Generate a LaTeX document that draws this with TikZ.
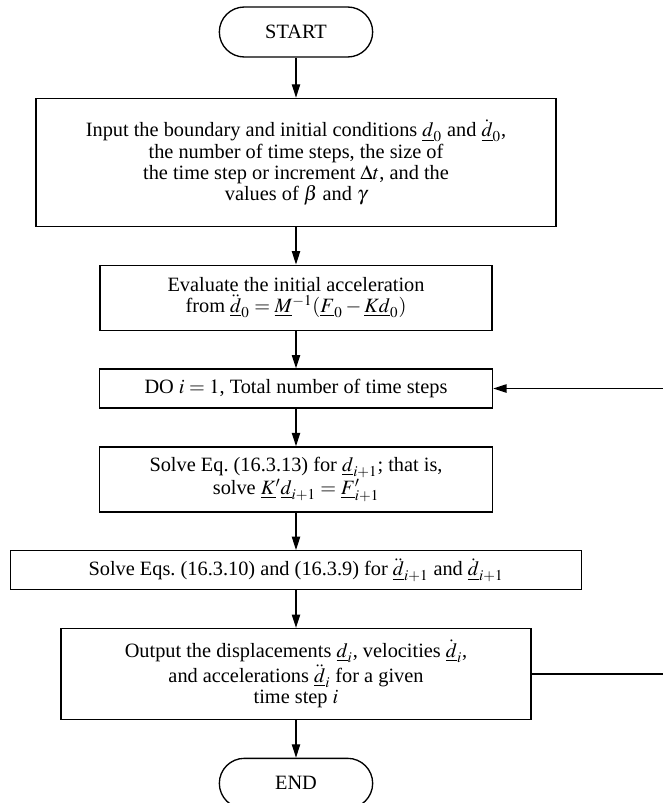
\documentclass[tikz,border=0pt]{standalone}
\usepackage{mathptmx}
\usepackage{fontspec}
\setmainfont{Liberation Serif}
\usetikzlibrary{positioning,arrows.meta}
\newcommand{\vect}[1]{\underline{#1}}

\begin{document}
\begin{tikzpicture}[
node distance=22.5pt,
box/.style={
draw,
line width=0.8pt,
inner sep=2pt,
align=center,
font=\fontsize{12.2}{12.8}\selectfont
},
terminal/.style={
box,
minimum width=92pt,
minimum height=30pt,
rounded corners=15pt
},
flow/.style={->, line width=0.7pt},
>={Triangle[length=8pt,width=5pt]}
]
\useasboundingbox (0,0) rectangle (397.8pt,-481.8pt);
\node (start) [terminal] at (177.6pt,-19.2pt) {START};
\node (input) [box, minimum width=312pt, minimum height=76.8pt, below=24pt of start]
{Input the boundary and initial conditions $\vect{d}_0$ and $\dot{\vect{d}}_0$,\\
the number of time steps, the size of\\
the time step or increment $\Delta t$, and the\\
values of $\beta$ and $\gamma$};
\node (accel) [box, minimum width=235.2pt, minimum height=39pt, below=of input]
{Evaluate the initial acceleration\\
from $\ddot{\vect{d}}_0 = \vect{M}^{-1}(\vect{F}_0 - \vect{K}\vect{d}_0)$};
\node (loop) [box, minimum width=235.8pt, minimum height=23.4pt, below=of accel]
{DO $i = 1$, Total number of time steps};
\node (solve) [box, minimum width=235.8pt, minimum height=39pt, below=of loop]
{Solve Eq.~(16.3.13) for $\vect{d}_{i+1}$; that is,\\
solve $\vect{K}'\vect{d}_{i+1} = \vect{F}'_{i+1}$};
\node (update) [box, minimum width=342.6pt, minimum height=23.4pt, below=of solve]
{Solve Eqs.~(16.3.10) and (16.3.9) for $\ddot{\vect{d}}_{i+1}$ and $\dot{\vect{d}}_{i+1}$};
\node (output) [box, minimum width=282pt, minimum height=54.6pt, below=of update]
{Output the displacements $\vect{d}_i$, velocities $\dot{\vect{d}}_i$,\\
and accelerations $\ddot{\vect{d}}_i$ for a given\\
time step $i$};
\node (end) [terminal, below=of output] {END};
% loop return, cut at the right edge
\coordinate (rim) at (397.8pt,0);
\coordinate (back) at (loop.east -| rim);
\coordinate (exit) at (output.east -| rim);
\draw[flow] (start) -- (input);
\draw[flow] (input) -- (accel);
\draw[flow] (accel) -- (loop);
\draw[flow] (loop) -- (solve);
\draw[flow] (solve) -- (update);
\draw[flow] (update) -- (output);
\draw[flow] (output) -- (end);
\draw[flow] (back) -- (loop.east);
\draw[line width=0.7pt] (output.east) -- (exit);
\end{tikzpicture}
\end{document}
